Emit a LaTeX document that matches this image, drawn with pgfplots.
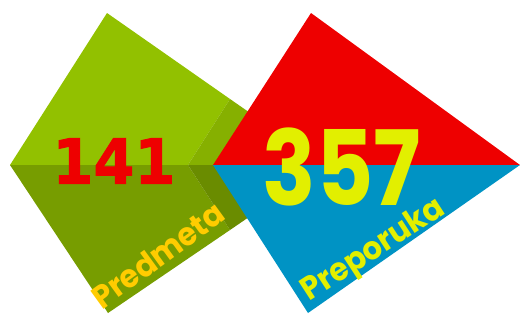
\documentclass[border=0pt]{standalone}
\usepackage{pgfplots}
\pgfplotsset{compat=1.18}
\usepackage{fontspec}
\newfontfamily\dejab{DejaVu Sans}[BoldFeatures={FakeBold=1.5}]
\newfontfamily\pop{Poppins}
\definecolor{gA}{HTML}{92C100}
\definecolor{gB}{HTML}{86B000}
\definecolor{gC}{HTML}{779D00}
\definecolor{gD}{HTML}{6A8C00}
\definecolor{rr}{HTML}{EE0000}
\definecolor{bb}{HTML}{0093C4}
\definecolor{yy}{HTML}{E2EF00}
\definecolor{oo}{HTML}{FFCC00}
\begin{document}
\begin{tikzpicture}
\begin{axis}[
  scale only axis, width=260pt, height=157pt,
  xmin=0, xmax=520, ymin=0, ymax=314, y dir=reverse,
  hide axis, clip=false]
\addplot[fill=gA, draw=none] coordinates {(10,165) (107,13) (230,99) (188,165)} -- cycle;
\addplot[fill=gB, draw=none] coordinates {(230,99) (325,165) (188,165)} -- cycle;
\addplot[fill=gC, draw=none] coordinates {(10,165) (188,165) (230,230) (108,313)} -- cycle;
\addplot[fill=gD, draw=none] coordinates {(188,165) (325,165) (230,230)} -- cycle;
\addplot[fill=rr, draw=none] coordinates {(213,165) (311,13) (520,165)} -- cycle;
\addplot[fill=bb, draw=none] coordinates {(213,165) (520,165) (308,313)} -- cycle;
\node[text=rr, font=\dejab\bfseries\fontsize{31}{31}\selectfont, xscale=0.95] at (axis cs:114,161) {141};
\node[text=yy, font=\pop\bfseries\fontsize{52}{52}\selectfont, xscale=0.85] at (axis cs:342,167) {357};
\node[text=oo, font=\pop\bfseries\fontsize{16}{16}\selectfont, rotate=36, xscale=0.95] at (axis cs:158,255) {Predmeta};
\node[text=yy, font=\pop\bfseries\fontsize{16}{16}\selectfont, rotate=33, xscale=0.95] at (axis cs:374,251) {Preporuka};
\end{axis}
\path (current axis.south west) rectangle (current axis.north east);
\end{tikzpicture}
\end{document}
